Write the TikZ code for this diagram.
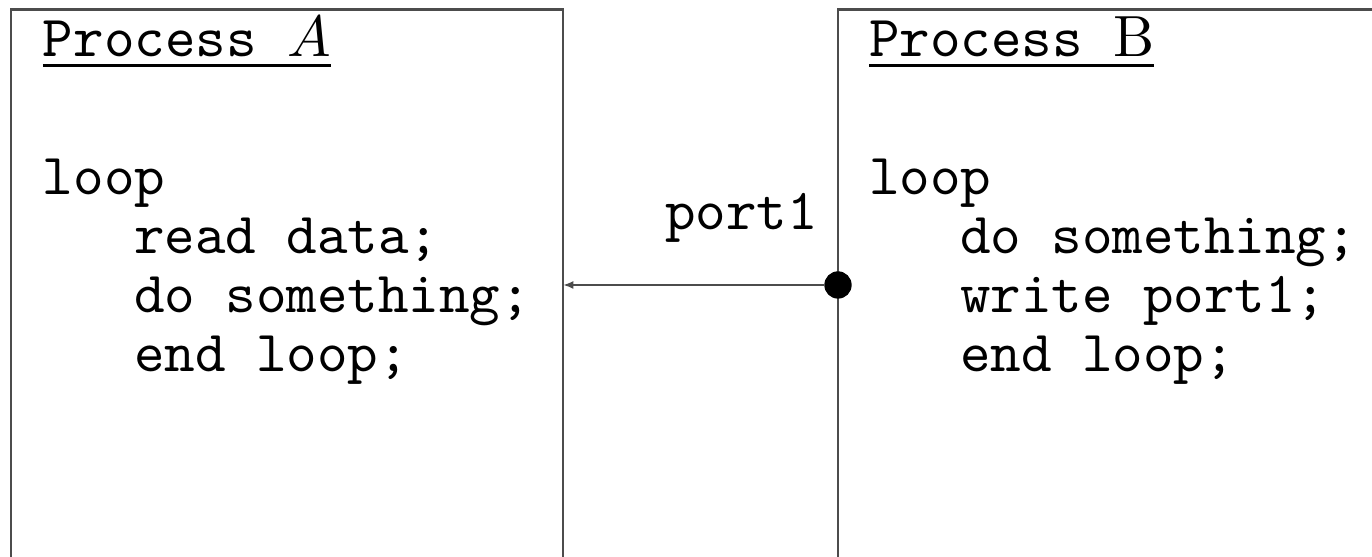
\documentclass[tikz,border=0pt]{standalone}
\usepackage{tikz}
\usetikzlibrary{positioning}
\usetikzlibrary{arrows.meta}

\begin{document}
\begin{tikzpicture}[x=0.172pt, y=-0.172pt, outer sep = 0pt,
  procline/.style={draw=black!70},
  code/.style={anchor=base west, inner sep=0pt, font=\ttfamily},
  portdot/.style={circle, fill=black, inner sep=0pt, minimum size=4.7pt}]

\useasboundingbox (0,0) rectangle (1372,557);
\clip (0,0) rectangle (1372,557);

% the two process boxes run off the page
\draw[procline] (11,9.5) rectangle (563,640);
\draw[procline] (838,9.5) rectangle (1420,640);

\coordinate (procAeast) at (563,285);

\node [portdot] (port1) at (838,285) {};
\node [code, anchor=base east] (port1label) at (818,230) {port1};
\draw [procline, -{Latex[length=1.8pt,width=1.4pt]}] (port1) -- (procAeast);

% process A
\node [code] (titleA) at (43,57) {\underline{Process $A$}};
\node [code] (loopA)  at (43,195) {loop};
\node [code] (readA)  at (134,254) {read data;};
\node [code] (doA)    at (134,313) {do something;};
\node [code] (endA)   at (134,372) {end loop;};

% process B
\node [code] (titleB) at (869,57) {\underline{Process\ \textrm{B}}};
\node [code] (loopB)  at (869,195) {loop};
\node [code] (doB)    at (960,254) {do something;};
\node [code] (writeB) at (960,313) {write port1;};
\node [code] (endB)   at (960,372) {end loop;};

\end{tikzpicture}
\end{document}
